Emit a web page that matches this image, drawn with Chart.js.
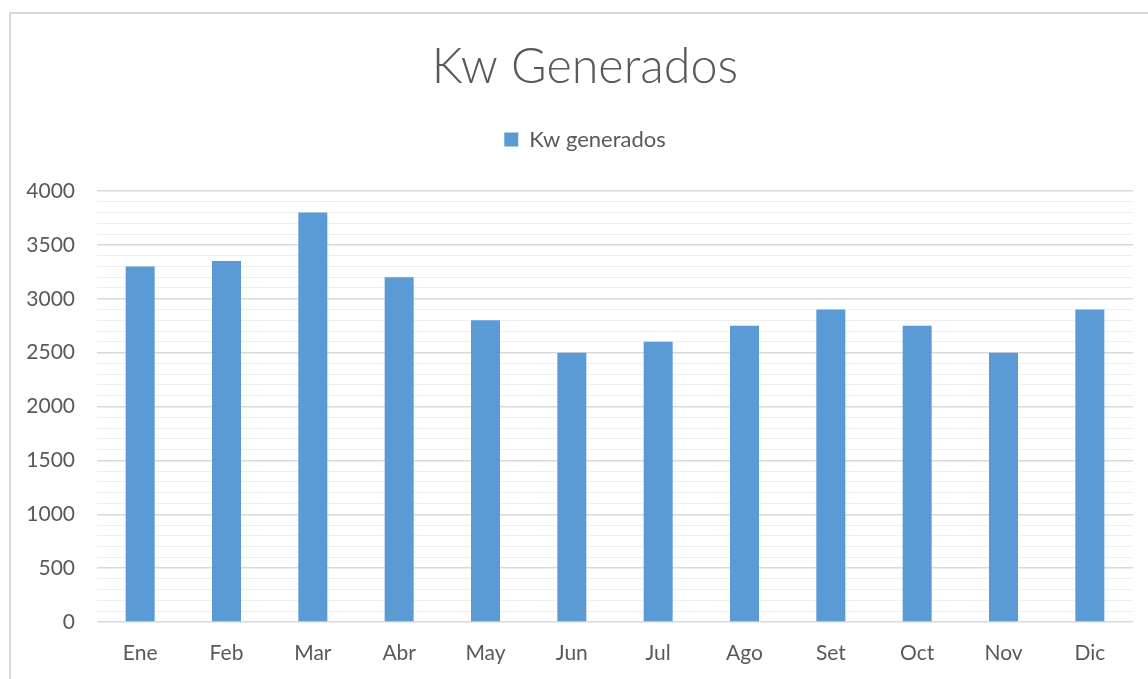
<!DOCTYPE html>
<html>
  <head>
    <meta charset="UTF-8">
    <title>Kw Generados</title>
    <script src="https://cdn.jsdelivr.net/npm/chart.js"></script>
    <style>
      body {
        margin: 0;
        overflow: hidden;
        background: white;
      }
      #frame {
        position: absolute;
        left: 9px;
        top: 12px;
        width: 1200px;
        height: 700px;
        border-left: 2px solid #d9d9d9;
        border-top: 2px solid #d9d9d9;
      }
      #myChart {
        position: absolute;
        left: 0;
        top: 0;
      }
    </style>
  </head>
  <body>
    <div id="frame">
      <canvas id="myChart" width="1148" height="665"></canvas>
    </div>

    <script>
      const months = ["Ene", "Feb", "Mar", "Abr", "May", "Jun", "Jul", "Ago", "Set", "Oct", "Nov", "Dic"];
      const kwGenerados = [3300, 3350, 3800, 3200, 2800, 2500, 2600, 2750, 2900, 2750, 2500, 2900];
      const yMin = 0;
      const yMax = 4000;
      const yMajorStep = 500;
      const yMinorStep = 100;

      const textColor = "#595959";
      const fontName = "Lato, 'Open Sans', sans-serif";

      const ctx = document.getElementById('myChart').getContext('2d');
      const myChart = new Chart(ctx, {
        type: 'bar',
        data: {
          labels: months,
          datasets: [{
            label: 'Kw generados',
            data: kwGenerados,
            backgroundColor: '#5b9bd5',
            borderWidth: 0,
            categoryPercentage: 1,
            barPercentage: 0.336
          }]
        },
        options: {
          responsive: false,
          animation: false,
          layout: {
            padding: 0
          },
          scales: {
            x: {
              grid: { display: false, drawTicks: false },
              border: { display: false },
              ticks: {
                color: textColor,
                padding: 19,
                font: { family: fontName, size: 21, lineHeight: 1.2 }
              },
              afterFit: function(scale) {
                scale.height = 57;
              }
            },
            y: {
              min: yMin,
              max: yMax,
              border: { display: false },
              grid: {
                drawTicks: false,
                color: function(c) {
                  return c.tick.value % yMajorStep === 0 ? '#d9d9d9' : '#efefef';
                },
                lineWidth: function(c) {
                  return c.tick.value % yMajorStep === 0 ? 1.5 : 1;
                }
              },
              ticks: {
                stepSize: yMinorStep,
                autoSkip: false,
                color: textColor,
                padding: 22,
                font: { family: fontName, size: 21 },
                callback: function(value) {
                  return value % yMajorStep === 0 ? value : '';
                }
              },
              afterFit: function(scale) {
                scale.width = 86;
              }
            },
            // empty axis on the right, keeps the plot narrower than the title area
            yRight: {
              type: 'linear',
              position: 'right',
              display: true,
              grid: { display: false, drawTicks: false },
              border: { display: false },
              ticks: { display: false },
              afterFit: function(scale) {
                scale.width = 26;
              }
            }
          },
          plugins: {
            title: {
              display: true,
              text: "Kw Generados",
              color: textColor,
              padding: { top: 29.25, bottom: 0 },
              font: { family: fontName, size: 48.5, weight: 300, lineHeight: 1 }
            },
            // empty subtitle used as a spacer between legend and plot
            subtitle: {
              display: true,
              text: "",
              weight: 500,
              padding: { top: 0, bottom: 29.5 },
              font: { size: 1, lineHeight: 1 }
            },
            legend: {
              labels: {
                color: textColor,
                boxWidth: 14,
                boxHeight: 14,
                padding: 36.75,
                font: { family: fontName, size: 22 }
              }
            },
            tooltip: { enabled: false }
          }
        }
      });
    </script>
  </body>
</html>
